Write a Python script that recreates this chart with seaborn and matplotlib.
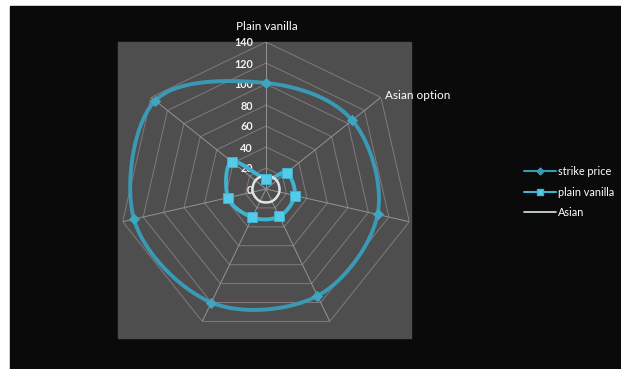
import numpy as np
import pandas as pd
import matplotlib
matplotlib.use("Agg")
import matplotlib.pyplot as plt
import seaborn as sns
from matplotlib.lines import Line2D
from matplotlib.patches import Rectangle

# data
categories = ['Plain vanilla', 'Asian option', '', '', '', '', '']
strike_price = [101, 105, 109, 113, 120, 129, 135]
plain_vanilla = [10, 25, 28, 29, 30, 37, 42]
asian = [13, 13, 13, 13, 13, 13, 13]
ring_levels = [0, 20, 40, 60, 80, 100, 120, 140]
series_names = ['strike price', 'plain vanilla', 'Asian']


def smooth_closed(theta, vals, steps=24):
    # Excel-like smoothed line: closed Catmull-Rom through the points
    vals = np.asarray(vals, dtype=float)
    pts = np.column_stack([vals * np.sin(theta), vals * np.cos(theta)])
    k = len(pts)
    t = np.linspace(0, 1, steps, endpoint=False)[:, None]
    out = []
    for i in range(k):
        p0, p1, p2, p3 = pts[i - 1], pts[i], pts[(i + 1) % k], pts[(i + 2) % k]
        seg = 0.5 * (2 * p1 + (p2 - p0) * t + (2 * p0 - 5 * p1 + 4 * p2 - p3) * t ** 2
                     + (3 * p1 - p0 - 3 * p2 + p3) * t ** 3)
        out.append(seg)
    out = np.vstack(out + [pts[:1]])
    th = np.unwrap(np.arctan2(out[:, 0], out[:, 1]))
    return pd.DataFrame({'theta': th, 'value': np.hypot(out[:, 0], out[:, 1])})


sns.set_style('dark')
plt.rcParams['font.family'] = ['Lato', 'DejaVu Sans']

n = len(categories)
theta = np.linspace(0, 2 * np.pi, n, endpoint=False)
theta_closed = np.append(theta, 2 * np.pi)

W, H = 621, 369
fig = plt.figure(figsize=(W / 100, H / 100), dpi=100, facecolor='white')
fig.add_artist(Rectangle((10 / W, 0), 1, 363 / H, transform=fig.transFigure,
                         color='#0a0a0a', zorder=0))
fig.add_artist(Rectangle((118 / W, 31 / H), 293 / W, 296 / H, transform=fig.transFigure,
                         color='#4e4e4e', zorder=0))

ax = fig.add_axes([119 / W, 33 / H, 294 / W, 294 / H], projection='polar')
ax.set_facecolor('none')
ax.set_theta_zero_location('N')
ax.set_theta_direction(-1)
ax.grid(False)
ax.spines['polar'].set_visible(False)
ax.set_xticks([])
ax.set_yticks([])

# heptagon grid rings and spokes
for lvl in ring_levels[1:]:
    ax.plot(theta_closed, [lvl] * (n + 1), color='#857880', lw=0.7, zorder=1)
for t in theta:
    ax.plot([t, t], [0, ring_levels[-1]], color='#949494', lw=0.7, zorder=1)

# tick labels along the top spoke
for lvl in ring_levels:
    ax.annotate(str(lvl), xy=(0, lvl), xytext=(-13, -1), textcoords='offset pixels',
                ha='right', va='center', color='#f2f2f2', fontsize=7.8, fontweight='bold')

# category labels
ax.annotate(categories[0], xy=(theta[0], ring_levels[-1]), xytext=(1, 15),
            textcoords='offset pixels', ha='center', va='center',
            color='white', fontsize=8.5)
ax.annotate(categories[1], xy=(theta[1], ring_levels[-1]), xytext=(4, 2),
            textcoords='offset pixels', ha='left', va='center',
            color='white', fontsize=8.5)

line_colors = ['#3a9ab5', '#3fb2d2', '#d9e6ea']
line_widths = [2.8, 2.8, 1.8]
for vals, col, lw in zip([strike_price, plain_vanilla, asian], line_colors, line_widths):
    sns.lineplot(data=smooth_closed(theta, vals), x='theta', y='value', sort=False,
                 estimator=None, ax=ax, legend=False, color=col, lw=lw, zorder=3)

sns.scatterplot(x=theta, y=strike_price, ax=ax, marker='D', s=28, color='#3fa6c2',
                edgecolor='#3fa6c2', legend=False, zorder=4)
sns.scatterplot(x=theta, y=plain_vanilla, ax=ax, marker='s', s=55, color='#55cbea',
                edgecolor='#3fb2d2', legend=False, zorder=4)

ax.set_ylim(0, ring_levels[-1])
ax.set_xlabel('')
ax.set_ylabel('')

handles = [
    Line2D([], [], color='#3a9ab5', lw=1.5, marker='D', markersize=3.5),
    Line2D([], [], color='#3fb2d2', lw=1.5, marker='s', markersize=5, mfc='#55cbea'),
    Line2D([], [], color='#d9e6ea', lw=1.2),
]
fig.legend(handles, series_names, loc='center left', bbox_to_anchor=(514 / W, 1 - 192 / H),
           frameon=False, labelcolor='white', fontsize=7.8, handlelength=3.0,
           handletextpad=0.2, labelspacing=0.9, numpoints=1)

fig.savefig('out.png', dpi=100, facecolor=fig.get_facecolor())
